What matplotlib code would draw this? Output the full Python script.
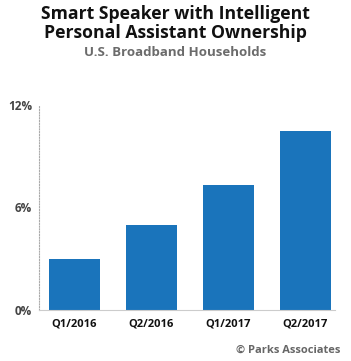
import matplotlib.pyplot as plt

quarters = ["Q1/2016", "Q2/2016", "Q1/2017", "Q2/2017"]
ownership = [3.0, 5.0, 7.3, 10.5]
y_ticks = [0, 6, 12]
y_labels = ["0%", "6%", "12%"]

plt.rcParams['font.family'] = ['Open Sans', 'DejaVu Sans']

fig = plt.figure(figsize=(3.51, 3.61), dpi=100)
ax = fig.add_axes([39 / 351, 1 - 310 / 361, (335 - 39) / 351, (310 - 105) / 361])

ax.bar(range(len(quarters)), ownership, width=0.66, color="#1a74bb")

ax.set_xlim(-35.5 / 77, (335 - 74.5) / 77)
ax.set_ylim(0, 12)
ax.set_yticks(y_ticks)
ax.set_yticklabels(y_labels, fontsize=8.5, fontweight="bold", color="#444444")
ax.set_xticks(range(len(quarters)))
ax.set_xticklabels(quarters, fontsize=8, fontweight="bold", color="#111111")
ax.tick_params(axis="both", length=0)
ax.tick_params(axis="y", pad=5)
ax.tick_params(axis="x", pad=6)

for s in ["top", "right"]:
    ax.spines[s].set_visible(False)
ax.spines["left"].set_linestyle((0, (1, 1.5)))
ax.spines["left"].set_color("#aaaaaa")
ax.spines["left"].set_linewidth(0.8)
ax.spines["bottom"].set_color("#cccccc")
ax.spines["bottom"].set_linewidth(0.8)

title_lines = ["Smart Speaker with Intelligent", "Personal Assistant Ownership"]
for i, line in enumerate(title_lines):
    fig.text(0.5, 1 - (14 + 19 * i) / 361, line, ha="center", va="center",
             fontsize=12.7, fontweight="bold", color="#111111")
fig.text(0.5, 1 - 52 / 361, "U.S. Broadband Households", ha="center", va="center",
         fontsize=9.5, fontweight="bold", color="#6b6b6b")
fig.text(340 / 351, 1 - 350 / 361, "© Parks Associates", ha="right", va="center",
         fontsize=8, fontweight="bold", color="#666666")

fig.savefig("out.png", dpi=100)
